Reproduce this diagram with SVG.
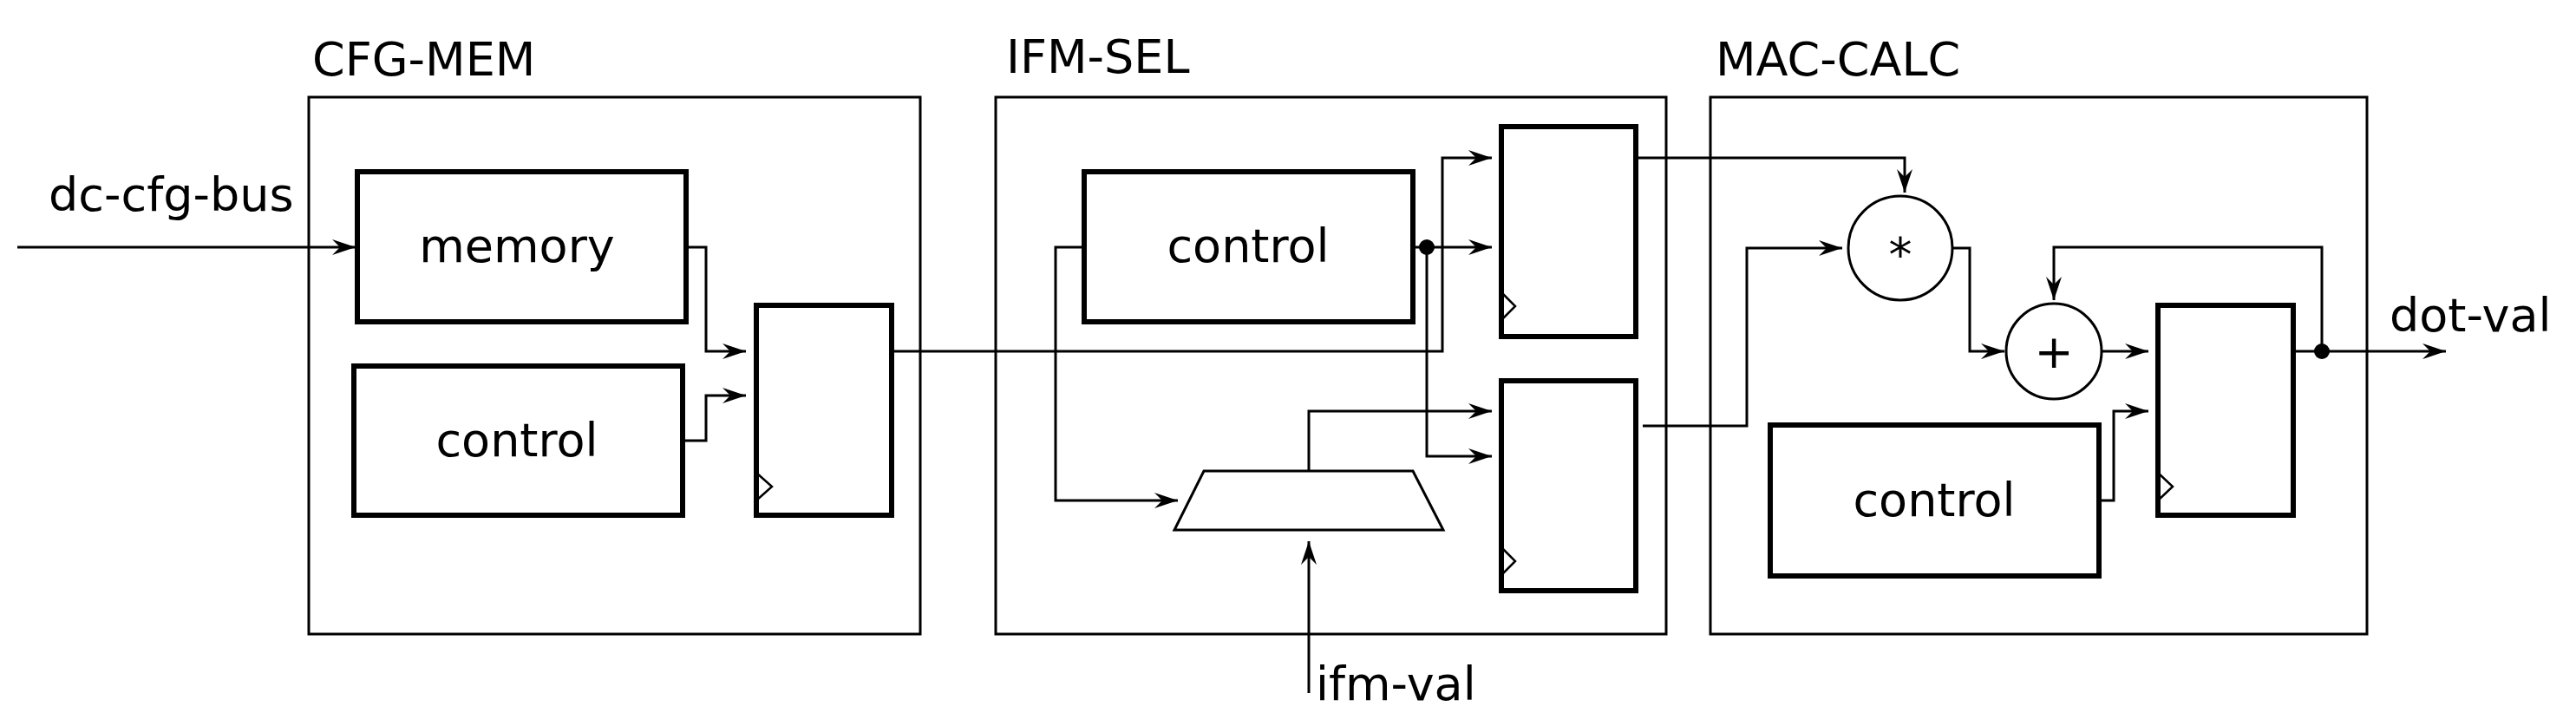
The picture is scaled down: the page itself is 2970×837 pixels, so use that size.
<svg xmlns="http://www.w3.org/2000/svg" width="2970" height="837" viewBox="0 0 2970 837">
<style>
text{font-family:"DejaVu Sans","Liberation Sans",sans-serif;font-size:54px;fill:#000}
.grp{fill:none;stroke:#000;stroke-width:3}
.blk{fill:#fff;stroke:#000;stroke-width:6}
.w{fill:none;stroke:#000;stroke-width:3}
.wa{fill:none;stroke:#000;stroke-width:3;marker-end:url(#ah)}
.op{fill:#fff;stroke:#000;stroke-width:3}
.clk{fill:none;stroke:#000;stroke-width:2.5}
</style>
<defs>
<marker id="ah" markerUnits="userSpaceOnUse" markerWidth="30" markerHeight="20" viewBox="-28 -10 30 20" refX="0" refY="0" orient="auto" overflow="visible">
<path d="M0,0 L-27,-9 L-18,0 L-27,9 z" fill="#000"/>
</marker>
</defs>
<rect width="2970" height="837" fill="#fff"/>
<g id="cfg-mem">
<text x="360" y="87">CFG-MEM</text>
<rect class="grp" x="356" y="112" width="705" height="619"/>
</g>
<g id="ifm-sel">
<text x="1160" y="84">IFM-SEL</text>
<rect class="grp" x="1148" y="112" width="773" height="619"/>
</g>
<g id="mac-calc">
<text x="1978" y="87">MAC-CALC</text>
<rect class="grp" x="1972" y="112" width="757" height="619"/>
</g>
<g id="connectors">
<path class="wa" d="M20,285 H410"/>
<path class="wa" d="M791,285 H814 V405 H860"/>
<path class="wa" d="M787,508 H814 V456 H860"/>
<path class="wa" d="M1028,405 H1663 V182 H1720"/>
<path class="wa" d="M1629,285 H1720"/>
<path class="wa" d="M1645,285 V526 H1720"/>
<path class="wa" d="M1250,285 H1217 V577 H1358"/>
<path class="wa" d="M1509,543 V474 H1720"/>
<path class="wa" d="M1509,799 V624"/>
<path class="wa" d="M1886,182 H2196 V222"/>
<path class="wa" d="M1894,491 H2014 V286 H2124"/>
<path class="wa" d="M2251,286 H2271 V405 H2311"/>
<path class="wa" d="M2423,405 H2477"/>
<path class="wa" d="M2644,405 H2820"/>
<path class="wa" d="M2677,405 V285 H2368 V346"/>
<path class="wa" d="M2420,577 H2437 V474 H2477"/>
<circle cx="1645" cy="285" r="9" fill="#000"/>
<circle cx="2677" cy="405" r="9" fill="#000"/>
</g>
<g id="memory"><rect class="blk" x="412" y="198" width="379" height="173"/><text x="596" y="302" text-anchor="middle">memory</text></g>
<g id="cfg-control"><rect class="blk" x="408" y="422" width="379" height="172"/><text x="596" y="526" text-anchor="middle">control</text></g>
<g id="cfg-reg"><rect class="blk" x="872" y="352" width="156" height="242"/><path class="clk" d="M872,545 L890,561 L872,577"/></g>
<g id="ifm-control"><rect class="blk" x="1250" y="198" width="379" height="173"/><text x="1439" y="302" text-anchor="middle">control</text></g>
<g id="ifm-reg1"><rect class="blk" x="1731" y="146" width="155" height="242"/><path class="clk" d="M1731,337 L1747,353 L1731,369"/></g>
<g id="ifm-reg2"><rect class="blk" x="1731" y="439" width="155" height="242"/><path class="clk" d="M1731,631 L1747,647 L1731,663"/></g>
<g id="mux"><path class="op" d="M1388,543 H1629 L1664,611 H1354 Z"/></g>
<g id="ifm-val"><text x="1517" y="807">ifm-val</text></g>
<g id="mul"><circle class="op" cx="2191" cy="286" r="60"/><text x="2191" y="312" text-anchor="middle">*</text></g>
<g id="add"><circle class="op" cx="2368" cy="405" r="55"/><text x="2368" y="424" text-anchor="middle">+</text></g>
<g id="mac-reg"><rect class="blk" x="2488" y="352" width="156" height="242"/><path class="clk" d="M2488,545 L2505,561 L2488,577"/></g>
<g id="mac-control"><rect class="blk" x="2041" y="490" width="379" height="174"/><text x="2230" y="595" text-anchor="middle">control</text></g>
<g id="labels"><text x="56" y="243">dc-cfg-bus</text><text x="2755" y="382">dot-val</text></g>
</svg>
